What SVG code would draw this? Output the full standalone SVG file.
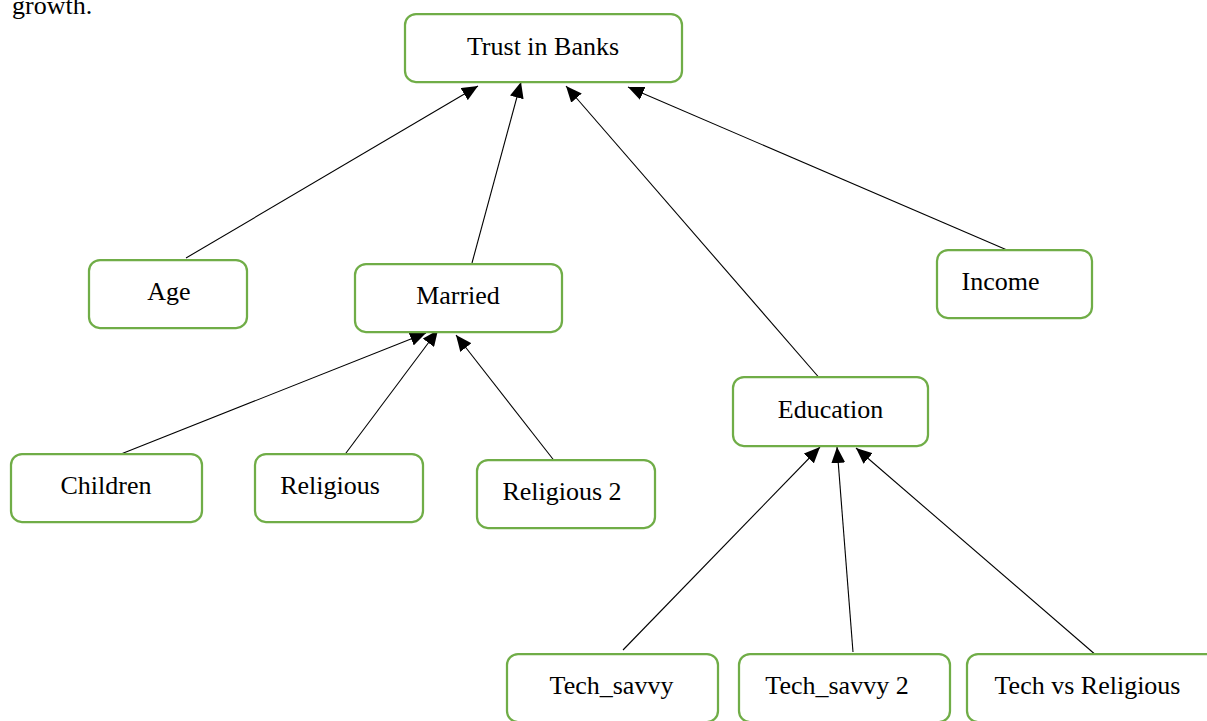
<svg xmlns="http://www.w3.org/2000/svg" width="1207" height="721" viewBox="0 0 1207 721">
<defs>
<style>
.box{fill:#ffffff;stroke:#70AD47;stroke-width:2.25}
.lbl{font-family:"Liberation Serif","Times New Roman",serif;font-size:26px;fill:#000000;text-anchor:middle}
.edge{stroke:#000000;stroke-width:1.1;fill:none;marker-end:url(#arr)}
</style>
<marker id="arr" markerUnits="userSpaceOnUse" markerWidth="18" markerHeight="14" refX="16" refY="7" orient="auto">
<path d="M0,0 L16,7 L0,14 Z" fill="#000000"/>
</marker>
</defs>
<rect width="1207" height="721" fill="#ffffff"/>
<text x="12" y="14" font-family="Liberation Serif, serif" font-size="26" fill="#000">growth.</text>
<g id="connectors">
<line class="edge" x1="186" y1="258" x2="478" y2="86"/>
<line class="edge" x1="472" y1="263" x2="521" y2="82"/>
<line class="edge" x1="822" y1="381" x2="566" y2="86"/>
<line class="edge" x1="1007" y1="250" x2="628" y2="87"/>
<line class="edge" x1="121" y1="454" x2="426" y2="333"/>
<line class="edge" x1="343" y1="457" x2="438" y2="330"/>
<line class="edge" x1="556" y1="463" x2="456" y2="335"/>
<line class="edge" x1="623" y1="650" x2="820" y2="447"/>
<line class="edge" x1="853" y1="652" x2="837" y2="447"/>
<line class="edge" x1="1097" y1="656" x2="856" y2="448"/>
</g>
<g id="n-trust"><rect class="box" x="405" y="14" width="277" height="68" rx="11"/><text class="lbl" x="543" y="55">Trust in Banks</text></g>
<g id="n-age"><rect class="box" x="89" y="260" width="158" height="68" rx="11"/><text class="lbl" x="169" y="300">Age</text></g>
<g id="n-married"><rect class="box" x="355" y="264" width="207" height="68" rx="11"/><text class="lbl" x="458" y="304">Married</text></g>
<g id="n-income"><rect class="box" x="937" y="250" width="155" height="68" rx="11"/><text class="lbl" x="1000.5" y="290">Income</text></g>
<g id="n-education"><rect class="box" x="733" y="377" width="195" height="69" rx="11"/><text class="lbl" x="830.5" y="418">Education</text></g>
<g id="n-children"><rect class="box" x="11" y="454" width="191" height="68" rx="11"/><text class="lbl" x="106" y="494">Children</text></g>
<g id="n-religious"><rect class="box" x="255" y="454" width="168" height="68" rx="11"/><text class="lbl" x="330" y="494">Religious</text></g>
<g id="n-religious2"><rect class="box" x="477" y="460" width="178" height="68" rx="11"/><text class="lbl" x="562" y="500">Religious 2</text></g>
<g id="n-techsavvy"><rect class="box" x="507" y="654" width="211" height="68" rx="11"/><text class="lbl" x="611.5" y="694">Tech_savvy</text></g>
<g id="n-techsavvy2"><rect class="box" x="739" y="654" width="211" height="68" rx="11"/><text class="lbl" x="837" y="694">Tech_savvy 2</text></g>
<g id="n-techvsrel"><rect class="box" x="967" y="654" width="260" height="68" rx="11"/><text class="lbl" x="1087.5" y="694">Tech vs Religious</text></g>
</svg>
